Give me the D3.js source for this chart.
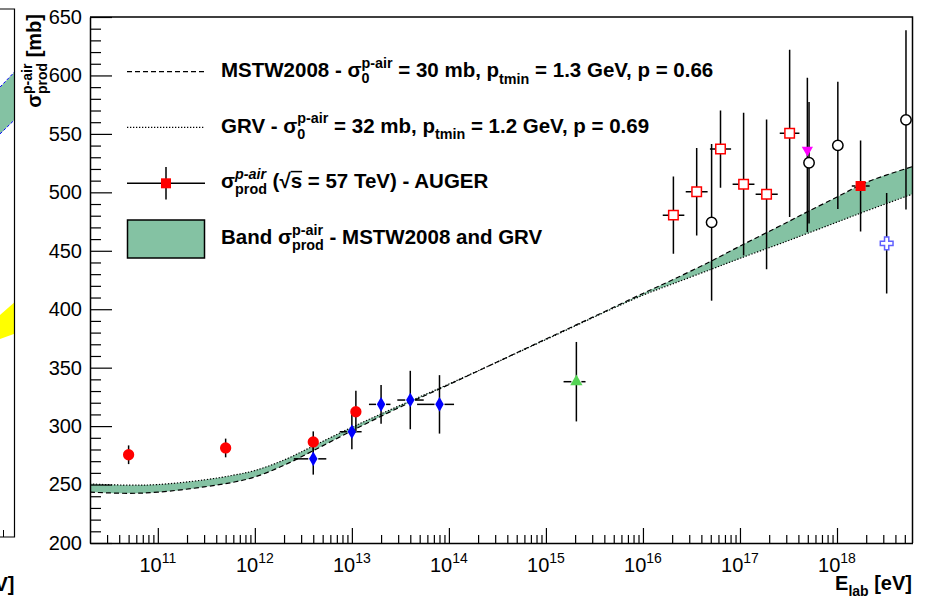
<!DOCTYPE html>
<html>
<head>
<meta charset="utf-8">
<script src="https://cdn.jsdelivr.net/npm/d3@7"></script>
<style>
  body { margin: 0; background: #fff; }
  svg { display: block; }
  text { font-family: "Liberation Sans", Arial, Helvetica, sans-serif; white-space: pre; }
</style>
</head>
<body>
<svg width="925" height="597"></svg>
<script>

// ---- model curves (sigma_prod p-air in mb vs E_lab in eV)
var modelE = [2e10, 5e10, 1e11, 3e11, 6e11, 1e12, 2e12, 4e12, 1e13, 3e13, 1e14, 1e15, 3e15, 1e16, 2e16, 5e16, 1e17, 3e17, 5e17, 1e18, 2e18, 6e18];
var mstw   = [243.5, 242.5, 243.5, 248, 252, 256.5, 266.5, 279, 296, 315.5, 335.5, 374.5, 393, 413.5, 425, 441, 454, 474, 483.5, 496, 508.5, 522];
var grv    = [250.5, 249.5, 250, 254, 258, 262, 271, 283, 299, 317, 336, 374, 392.5, 412, 421.5, 434, 443.5, 458, 465, 474.5, 484, 498.5];

// ---- measurements: e = energy, v = value, err = y error, elo/ehi = energy range
var redCircles   = [
    {e: 5e10, v: 275.5, err: 8},
    {e: 5e11, v: 281.3, err: 8},
    {e: 4e12, v: 286.5, err: 9},
    {e: 1.1e13, v: 312.3, err: 18}
];
var blueDiamonds = [
    {e: 4e12, v: 272, err: 13.5, elo: 2.52e12, ehi: 5.45e12},
    {e: 1e13, v: 295.2, err: 15, elo: 7.5e12, ehi: 1.26e13},
    {e: 2e13, v: 318.6, err: 16.5, elo: 1.5e13, ehi: 2.5e13},
    {e: 4e13, v: 322.3, err: 25, elo: 2.94e13, ehi: 5.5e13},
    {e: 8e13, v: 318.6, err: 25, elo: 4.7e13, ehi: 1.13e14}
];
var greenTriangle = [ {e: 2.06e15, v: 338, err: 34, elo: 1.52e15, ehi: 2.56e15} ];
var openSquares  = [
    {e: 2.06e16, v: 480.5, err: 33, elo: 1.6e16, ehi: 2.67e16},
    {e: 3.58e16, v: 500.5, err: 37.5, elo: 2.76e16, ehi: 4.64e16},
    {e: 6.3e16, v: 537, err: 33, elo: 4.9e16, ehi: 8.1e16},
    {e: 1.09e17, v: 507, err: 61, elo: 8.4e16, ehi: 1.41e17},
    {e: 1.88e17, v: 498.3, err: 64, elo: 1.45e17, ehi: 2.45e17},
    {e: 3.25e17, v: 550.5, err: 71.5, elo: 2.57e17, ehi: 4.1e17}
];
var openCircles  = [
    {e: 5.1e16, v: 474.3, err: 67},
    {e: 5.15e17, v: 525.3, err: 52},
    {e: 1.02e18, v: 540.2, err: 54.5},
    {e: 5.14e18, v: 562, err: 76.6}
];
var magentaTri   = [ {e: 4.95e17, v: 532, err: 66} ];
var auger        = [ {e: 1.75e18, v: 505.4, err: 39, elo: 1.42e18, ehi: 2.17e18} ];
var blueCross    = [ {e: 3.25e18, v: 456.4, err: 43} ];

var yTicks = [200, 250, 300, 350, 400, 450, 500, 550, 600, 650];
var xDecades = [11, 12, 13, 14, 15, 16, 17, 18];

// sliver of the neighbouring panel (t = 0..1 across the sliver)
var nbGreen  = [ {t: 0, lo: 550, hi: 590}, {t: 1, lo: 562, hi: 603} ];
var nbYellow = [ {t: 0, lo: 374.5, hi: 395}, {t: 1, lo: 379, hi: 406} ];

var svg = d3.select("svg");

var x = d3.scaleLog().domain([2e10, 6e18]).range([90, 912.5]);
var y = d3.scaleLinear().domain([200, 650]).range([543, 17]);
var xn = d3.scaleLinear().domain([0, 1]).range([0, 14.5]);

var bandColor = "#84c2a3";

// draws text with stacked sup/sub like ROOT's TLatex
function rich(parent, px, py, parts, fs, opt) {
    opt = opt || {};
    var g = parent.append("g").attr("font-weight", opt.bold ? "bold" : "normal").attr("fill", "#000");
    var cx = 0;
    var rs = opt.rs || 0.7;
    function add(t, dy, size, italic) {
        var el = g.append("text").attr("x", cx).attr("y", dy).attr("font-size", size).text(t);
        if (italic) el.attr("font-style", "italic");
        return el.node().getComputedTextLength();
    }
    parts.forEach(function(p) {
        if (p.t) {
            var w = add(p.t, 0, fs);
            if (p.over) {
                g.append("line").attr("x1", cx).attr("x2", cx + w)
                    .attr("y1", -fs * 0.8).attr("y2", -fs * 0.8)
                    .attr("stroke", "#000").attr("stroke-width", 1.5);
            }
            cx += w;
        }
        if (p.sup || p.sub) {
            var w2 = 0;
            if (p.sup) w2 = Math.max(w2, add(p.sup, -fs * 0.45, fs * rs, p.it));
            if (p.sub) w2 = Math.max(w2, add(p.sub, fs * (p.sup ? 0.3 : 0.33), fs * rs));
            cx += w2;
        }
    });
    var sx = opt.anchor === "end" ? -cx : (opt.anchor === "middle" ? -cx / 2 : 0);
    g.attr("transform", "translate(" + px + "," + py + ")" + (opt.rotate ? " rotate(" + opt.rotate + ")" : "") + " translate(" + sx + ",0)");
    return cx;
}

/* --------- neighbouring panel sliver --------- */
var nb = svg.append("g");
var nbArea = d3.area().x(function(d) { return xn(d.t); })
    .y0(function(d) { return y(d.lo); }).y1(function(d) { return y(d.hi); });
nb.append("path").datum(nbGreen).attr("d", nbArea).attr("fill", bandColor);
nb.append("path").datum(nbYellow).attr("d", nbArea).attr("fill", "#ffff00");
["hi", "lo"].forEach(function(k) {
    nb.append("path").datum(nbGreen)
        .attr("d", d3.line().x(function(d) { return xn(d.t); }).y(function(d) { return y(d[k]); }))
        .attr("fill", "none").attr("stroke", "#0000ff").attr("stroke-width", 1).attr("stroke-dasharray", "3,2");
});
nb.append("path").attr("d", "M0,9H14.5V537H0").attr("fill", "none").attr("stroke", "#000").attr("stroke-width", 1.2);
nb.append("line").attr("x1", 3.5).attr("x2", 3.5).attr("y1", 537).attr("y2", 530).attr("stroke", "#000");
nb.append("text").attr("x", 14.5).attr("y", 591).attr("text-anchor", "end")
    .attr("font-size", 20).attr("font-weight", "bold").text("[eV]");

/* --------- main plot --------- */
svg.append("clipPath").attr("id", "frame").append("rect")
    .attr("x", 90).attr("y", 17).attr("width", 822.5).attr("height", 526);

var plot = svg.append("g").attr("clip-path", "url(#frame)");

var table = modelE.map(function(e, i) { return {e: e, m: mstw[i], g: grv[i]}; });
var smooth = d3.curveCatmullRom.alpha(0.5);

plot.append("path").datum(table)
    .attr("d", d3.area().curve(smooth)
        .x(function(d) { return x(d.e); })
        .y0(function(d) { return y(d.g); })
        .y1(function(d) { return y(d.m); }))
    .attr("fill", bandColor);

plot.append("path").datum(table)
    .attr("d", d3.line().curve(smooth).x(function(d) { return x(d.e); }).y(function(d) { return y(d.m); }))
    .attr("fill", "none").attr("stroke", "#000").attr("stroke-width", 1.2).attr("stroke-dasharray", "5,3");

plot.append("path").datum(table)
    .attr("d", d3.line().curve(smooth).x(function(d) { return x(d.e); }).y(function(d) { return y(d.g); }))
    .attr("fill", "none").attr("stroke", "#000").attr("stroke-width", 1.2).attr("stroke-dasharray", "1.3,1.7");

// error bars + markers
var series = [
    {data: redCircles,   sym: d3.symbolCircle,   size: 100, fill: "#ff0000", stroke: "none"},
    {data: blueDiamonds, sym: d3.symbolDiamond,  size: 62,  fill: "#0000ff", stroke: "none"},
    {data: greenTriangle,sym: d3.symbolTriangle, size: 65,  fill: "#55d455", stroke: "none"},
    {data: openCircles,  sym: d3.symbolCircle,   size: 85,  fill: "#fff",    stroke: "#000"},
    {data: openSquares,  sym: d3.symbolSquare,   size: 90,  fill: "#fff",    stroke: "#ff0000"},
    {data: magentaTri,   sym: d3.symbolTriangle, size: 55,  fill: "#ff00ff", stroke: "none", rot: 180, dy: -5},
    {data: auger,        sym: d3.symbolSquare,   size: 100, fill: "#ff0000", stroke: "none"},
    {data: blueCross,    sym: d3.symbolCross,    size: 90,  fill: "#fff",    stroke: "#6060ff"}
];

var bars = plot.append("g").attr("stroke", "#000").attr("stroke-width", 1.5);
series.forEach(function(s) {
    s.data.forEach(function(d) {
        var cx = x(d.e), cy = y(d.v);
        bars.append("line").attr("x1", cx).attr("x2", cx).attr("y1", y(d.v - d.err)).attr("y2", y(d.v + d.err));
        if (d.elo) {
            var gap = 5;
            bars.append("line").attr("x1", x(d.elo)).attr("x2", cx - gap).attr("y1", cy).attr("y2", cy);
            bars.append("line").attr("x1", cx + gap).attr("x2", x(d.ehi)).attr("y1", cy).attr("y2", cy);
        }
    });
});

series.forEach(function(s) {
    plot.append("g").selectAll("path").data(s.data).enter().append("path")
        .attr("d", d3.symbol().type(s.sym).size(s.size))
        .attr("transform", function(d) {
            return "translate(" + x(d.e) + "," + (y(d.v) + (s.dy || 0)) + ")" + (s.rot ? " rotate(" + s.rot + ")" : "");
        })
        .attr("fill", s.fill)
        .attr("stroke", s.stroke)
        .attr("stroke-width", s.stroke === "none" ? 0 : 1.5);
});

/* --------- axes --------- */
var yAxis = svg.append("g").attr("transform", "translate(90,0)")
    .call(d3.axisLeft(y).tickValues(yTicks).tickSizeInner(-22).tickSizeOuter(0).tickPadding(8));
yAxis.selectAll("text").attr("font-size", 20).attr("fill", "#000").style("font-family", "Liberation Sans, Arial, sans-serif");
svg.append("g").attr("transform", "translate(90,0)")
    .call(d3.axisLeft(y).tickValues(d3.range(200, 651, 10).filter(function(v) { return v % 50; }))
        .tickSizeInner(-11).tickSizeOuter(0).tickFormat(""))
    .select(".domain").remove();

var minorE = [];
for (var dec = 10; dec <= 18; dec++) {
    for (var k = 2; k <= 9; k++) {
        var ev = k * Math.pow(10, dec);
        if (ev > 2e10 && ev < 6e18) minorE.push(ev);
    }
}
svg.append("g").attr("transform", "translate(0,543)")
    .call(d3.axisBottom(x).tickValues(xDecades.map(function(p) { return Math.pow(10, p); }))
        .tickSizeInner(-15).tickSizeOuter(0).tickFormat(""));
svg.append("g").attr("transform", "translate(0,543)")
    .call(d3.axisBottom(x).tickValues(minorE).tickSizeInner(-8).tickSizeOuter(0).tickFormat(""))
    .select(".domain").remove();

svg.selectAll(".tick line").attr("stroke-width", 1.2);
svg.selectAll(".domain").attr("stroke-width", 1.5);

xDecades.forEach(function(p) {
    rich(svg, x(Math.pow(10, p)), 572, [{t: "10", sup: String(p)}], 20, {anchor: "middle"});
});

// frame top and right
svg.append("path").attr("d", "M90,17H912.5V543").attr("fill", "none").attr("stroke", "#000").attr("stroke-width", 1.5);

// axis titles
rich(svg, 912, 589.5, [{t: "E", sub: "lab"}, {t: " [eV]"}], 20, {bold: true, anchor: "end"});
rich(svg, 41, 14, [{t: "σ", sup: "p-air", sub: "prod"}, {t: " [mb]"}], 20, {bold: true, anchor: "end", rotate: -90});

/* --------- legend --------- */
var leg = svg.append("g");
var lx0 = 127, lx1 = 205, tx = 221, fsL = 20.5;

leg.append("line").attr("x1", lx0).attr("x2", lx1).attr("y1", 71.7).attr("y2", 71.7)
    .attr("stroke", "#000").attr("stroke-width", 1.2).attr("stroke-dasharray", "5,3");
rich(leg, tx, 77, [{t: "MSTW2008 - σ", sup: "p-air", sub: "0"}, {t: " = 30 mb, p", sub: "tmin"}, {t: " = 1.3 GeV, p = 0.66"}], fsL, {bold: true});

leg.append("line").attr("x1", lx0).attr("x2", lx1).attr("y1", 127.3).attr("y2", 127.3)
    .attr("stroke", "#000").attr("stroke-width", 1.2).attr("stroke-dasharray", "1.3,1.7");
rich(leg, tx, 132.5, [{t: "GRV - σ", sup: "p-air", sub: "0"}, {t: " = 32 mb, p", sub: "tmin"}, {t: " = 1.2 GeV, p = 0.69"}], fsL, {bold: true});

leg.append("line").attr("x1", lx0).attr("x2", lx1).attr("y1", 183.3).attr("y2", 183.3).attr("stroke", "#000").attr("stroke-width", 1.5);
leg.append("line").attr("x1", 166).attr("x2", 166).attr("y1", 167).attr("y2", 199.5).attr("stroke", "#000").attr("stroke-width", 1.5);
leg.append("path").attr("d", d3.symbol().type(d3.symbolSquare).size(100)).attr("transform", "translate(166,183.3)").attr("fill", "#ff0000");
rich(leg, tx, 188, [{t: "σ", sup: "p-air", sub: "prod", it: true}, {t: " (√"}, {t: "s", over: true}, {t: " = 57 TeV) - AUGER"}], fsL, {bold: true});

leg.append("rect").attr("x", 127.5).attr("y", 220).attr("width", 77).attr("height", 38)
    .attr("fill", bandColor).attr("stroke", "#000").attr("stroke-width", 1.5);
rich(leg, tx, 244, [{t: "Band σ", sup: "p-air", sub: "prod"}, {t: " - MSTW2008 and GRV"}], fsL, {bold: true});

</script>
</body>
</html>
